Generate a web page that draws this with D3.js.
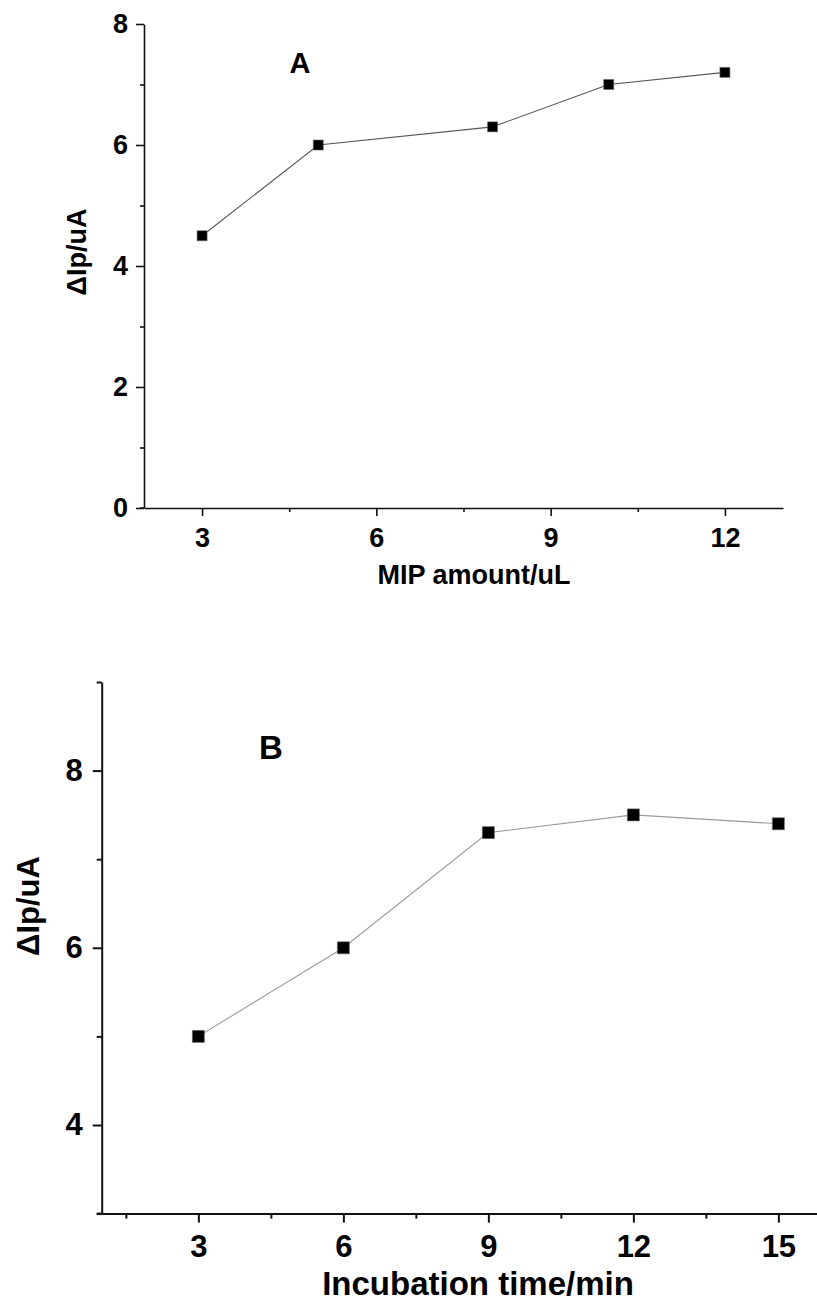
<!DOCTYPE html>
<html>
<head>
<meta charset="utf-8">
<script src="https://cdn.jsdelivr.net/npm/d3@7"></script>
<style>
  body { margin: 0; background: #fff; }
  svg text { font-family: "Liberation Sans", Arial, sans-serif; font-weight: bold; fill: #000; }
</style>
</head>
<body>
<svg id="chart" width="817" height="1301"></svg>
<script>
// panel A: MIP amount
const mipAmount = [3, 5, 8, 10, 12];
const mipSignal = [4.5, 6.0, 6.3, 7.0, 7.2];
const mipXTicks = [3, 6, 9, 12];
const mipXMinor = [4.5, 7.5, 10.5];
const mipYTicks = [0, 2, 4, 6, 8];
const mipYMinor = [1, 3, 5, 7];

// panel B: incubation time
const incTime = [3, 6, 9, 12, 15];
const incSignal = [5.0, 6.0, 7.3, 7.5, 7.4];
const incXTicks = [3, 6, 9, 12, 15];
const incXMinor = [1.5, 4.5, 7.5, 10.5, 13.5];
const incYTicks = [4, 6, 8];
const incYMinor = [3, 5, 7, 9];

const svg = d3.select("#chart");

function drawPanel(cfg) {
  const x = d3.scaleLinear().domain(cfg.xDomain).range(cfg.xRange);
  const y = d3.scaleLinear().domain(cfg.yDomain).range(cfg.yRange);
  const g = svg.append("g");

  // minor ticks first, so the main axis sits on top
  g.append("g")
    .attr("transform", `translate(0,${cfg.yRange[0]})`)
    .call(d3.axisBottom(x).tickValues(cfg.xMinor).tickSize(cfg.minor).tickFormat(""))
    .call((a) => a.select(".domain").remove());
  g.append("g")
    .attr("transform", `translate(${cfg.xRange[0]},0)`)
    .call(d3.axisLeft(y).tickValues(cfg.yMinor).tickSize(cfg.minor).tickFormat(""))
    .call((a) => a.select(".domain").remove());

  const xAxis = g.append("g")
    .attr("transform", `translate(0,${cfg.yRange[0]})`)
    .call(d3.axisBottom(x).tickValues(cfg.xTicks).tickSize(cfg.major)
      .tickSizeOuter(0).tickPadding(cfg.xPad).tickFormat(d3.format("d")));
  const yAxis = g.append("g")
    .attr("transform", `translate(${cfg.xRange[0]},0)`)
    .call(d3.axisLeft(y).tickValues(cfg.yTicks).tickSize(cfg.major)
      .tickSizeOuter(0).tickPadding(cfg.yPad).tickFormat(d3.format("d")));

  g.selectAll(".tick line, .domain")
    .attr("stroke", "#111")
    .attr("stroke-width", cfg.axisWidth);
  [xAxis, yAxis].forEach((a) =>
    a.attr("font-family", null).attr("font-size", null)
      .selectAll("text").style("font-size", cfg.tickFont + "px"));

  // short stub of the x axis left of the y axis
  g.append("line")
    .attr("x1", cfg.xRange[0] - cfg.minor).attr("x2", cfg.xRange[0])
    .attr("y1", cfg.yRange[0]).attr("y2", cfg.yRange[0])
    .attr("stroke", "#111").attr("stroke-width", cfg.axisWidth);

  const pts = cfg.xs.map((v, i) => [v, cfg.ys[i]]);
  g.append("path")
    .datum(pts)
    .attr("fill", "none")
    .attr("stroke", cfg.lineColor)
    .attr("stroke-width", 1.1)
    .attr("d", d3.line().x((d) => x(d[0])).y((d) => y(d[1])));

  g.selectAll(".pt")
    .data(pts)
    .enter()
    .append("path")
    .attr("class", "pt")
    .attr("transform", (d) => `translate(${x(d[0])},${y(d[1])})`)
    .attr("d", d3.symbol().type(d3.symbolSquare).size(cfg.marker * cfg.marker))
    .attr("fill", "#000")
    .attr("stroke", "#666")
    .attr("stroke-width", 0.6);

  g.append("text")
    .attr("x", cfg.xTitlePos[0]).attr("y", cfg.xTitlePos[1])
    .attr("text-anchor", "middle")
    .style("font-size", cfg.xTitleFont + "px")
    .text(cfg.xTitle);

  g.append("text")
    .attr("transform", `translate(${cfg.yTitlePos[0]},${cfg.yTitlePos[1]}) rotate(-90)`)
    .attr("text-anchor", "middle")
    .style("font-size", cfg.yTitleFont + "px")
    .text("ΔIp/uA");

  g.append("text")
    .attr("x", cfg.tag[0]).attr("y", cfg.tag[1])
    .attr("text-anchor", "middle")
    .style("font-size", cfg.tagFont + "px")
    .text(cfg.tagText);
}

drawPanel({
  xs: mipAmount, ys: mipSignal,
  xDomain: [2, 13], xRange: [144, 783],
  yDomain: [0, 8], yRange: [508, 24],
  xTicks: mipXTicks, xMinor: mipXMinor,
  yTicks: mipYTicks, yMinor: mipYMinor,
  major: 8, minor: 4, xPad: 12, yPad: 8, axisWidth: 1.6,
  tickFont: 27, lineColor: "#555", marker: 10,
  xTitle: "MIP amount/uL", xTitlePos: [474, 584], xTitleFont: 27,
  yTitlePos: [86, 252], yTitleFont: 27,
  tagText: "A", tag: [300, 73], tagFont: 29
});

drawPanel({
  xs: incTime, ys: incSignal,
  xDomain: [1, 16], xRange: [101.7, 826.7],
  yDomain: [3, 9], yRange: [1213.6, 682],
  xTicks: incXTicks, xMinor: incXMinor,
  yTicks: incYTicks, yMinor: incYMinor,
  major: 9, minor: 5, xPad: 12, yPad: 10, axisWidth: 2,
  tickFont: 31, lineColor: "#9a9a9a", marker: 12,
  xTitle: "Incubation time/min", xTitlePos: [478, 1295], xTitleFont: 33,
  yTitlePos: [39, 906], yTitleFont: 31,
  tagText: "B", tag: [271, 759], tagFont: 33
});
</script>
</body>
</html>
